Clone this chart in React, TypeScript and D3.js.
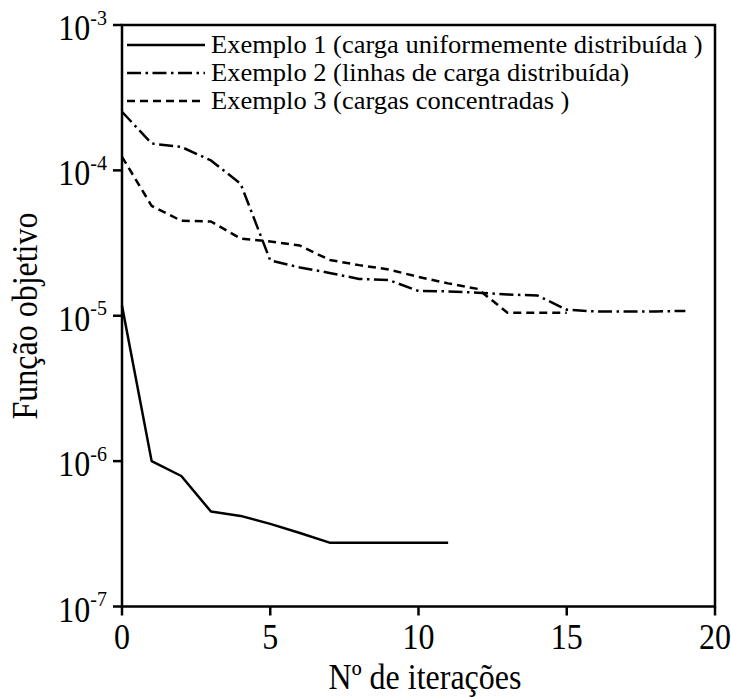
import React from "react";
import * as d3 from "d3";

const xTicks = [0, 5, 10, 15, 20];
const yExponents = [-3, -4, -5, -6, -7];

const iter1 = [0, 1, 2, 3, 4, 5, 6, 7, 8, 9, 10, 11];
const exemplo1 = [1.17e-5, 1.0e-6, 7.9e-7, 4.5e-7, 4.2e-7, 3.7e-7, 3.2e-7, 2.75e-7, 2.75e-7, 2.75e-7, 2.75e-7, 2.75e-7];

const iter2 = [0, 1, 2, 3, 4, 5, 6, 7, 8, 9, 10, 11, 12, 13, 14, 15, 16, 17, 18, 19];
const exemplo2 = [2.53e-4, 1.53e-4, 1.45e-4, 1.17e-4, 8.1e-5, 2.4e-5, 2.15e-5, 1.97e-5, 1.79e-5, 1.76e-5, 1.48e-5, 1.47e-5, 1.44e-5, 1.4e-5, 1.38e-5, 1.1e-5, 1.07e-5, 1.07e-5, 1.07e-5, 1.08e-5];

const iter3 = [0, 1, 2, 3, 4, 5, 6, 7, 8, 9, 10, 11, 12, 13, 14, 15];
const exemplo3 = [1.24e-4, 5.7e-5, 4.5e-5, 4.45e-5, 3.4e-5, 3.24e-5, 3.04e-5, 2.42e-5, 2.23e-5, 2.08e-5, 1.85e-5, 1.67e-5, 1.53e-5, 1.05e-5, 1.05e-5, 1.05e-5];

const legendLabels = [
  "Exemplo 1 (carga uniformemente distribuída )",
  "Exemplo 2 (linhas de carga distribuída)",
  "Exemplo 3 (cargas concentradas )",
];

const FONT = "'Liberation Serif', 'Times New Roman', serif";

export default function App() {
  const left = 122, top = 25, bottom = 606.5;
  const x = d3.scaleLinear().domain([0, 20]).range([left, 715]);
  const right = x(20);
  const y = d3.scaleLog().domain([1e-7, 1e-3]).range([bottom, top]);
  const line = d3.line<[number, number]>().x((d) => x(d[0])).y((d) => y(d[1]));

  const series = [
    { xs: iter1, ys: exemplo1, dash: "none" },
    { xs: iter2, ys: exemplo2, dash: "14 4.5 2.5 4.5" },
    { xs: iter3, ys: exemplo3, dash: "8 5" },
  ];

  const legendY = [45, 73, 101];

  return (
    <svg
      width={731}
      height={697}
      style={{ position: "absolute", left: 0, top: 0, background: "#fff" }}
      fontFamily={FONT}
    >
      <rect x={0} y={0} width={731} height={697} fill="#fff" />
      {/* frame */}
      <path
        d={`M${left},${top}H${right}V${bottom}H${left}Z`}
        fill="none"
        stroke="#000"
        strokeWidth={2.5}
      />
      {/* y ticks */}
      {yExponents.map((e) => {
        const yy = y(Math.pow(10, e));
        return (
          <g key={e}>
            <line x1={left - 9} x2={left} y1={yy} y2={yy} stroke="#000" strokeWidth={2.5} />
            <text
              transform={`translate(107,${yy + 15}) scale(1,1.1)`}
              textAnchor="end"
              fontSize={32}
              fill="#000"
            >
              10
              <tspan fontSize={20} dy={-14}>{`-${-e}`}</tspan>
            </text>
          </g>
        );
      })}
      {/* x ticks */}
      {xTicks.map((t) => (
        <g key={t}>
          <line x1={x(t)} x2={x(t)} y1={bottom} y2={bottom + 9} stroke="#000" strokeWidth={2.5} />
          <text
            transform={`translate(${x(t)},649) scale(1,1.1)`}
            textAnchor="middle"
            fontSize={32}
            fill="#000"
          >
            {t}
          </text>
        </g>
      ))}
      {/* axis titles */}
      <text
        transform="translate(425,689) scale(1,1.1)"
        textAnchor="middle"
        fontSize={32}
        fill="#000"
      >
        Nº de iterações
      </text>
      <text
        transform={`translate(37,316) rotate(-90) scale(1,1.1)`}
        textAnchor="middle"
        fontSize={32}
        fill="#000"
      >
        Função objetivo
      </text>
      {/* series */}
      {series.map((s, i) => (
        <path
          key={i}
          d={line(s.xs.map((v, j) => [v, s.ys[j]] as [number, number])) || ""}
          fill="none"
          stroke="#000"
          strokeWidth={2.5}
          strokeDasharray={s.dash}
          strokeLinejoin="round"
        />
      ))}
      {/* legend */}
      {legendLabels.map((lab, i) => (
        <g key={lab}>
          <line
            x1={127}
            x2={205}
            y1={legendY[i]}
            y2={legendY[i]}
            stroke="#000"
            strokeWidth={2.5}
            strokeDasharray={series[i].dash}
          />
          <text
            transform={`translate(211,${legendY[i] + 8}) scale(1.06,1)`}
            fontSize={25}
            fill="#000"
          >
            {lab}
          </text>
        </g>
      ))}
    </svg>
  );
}
